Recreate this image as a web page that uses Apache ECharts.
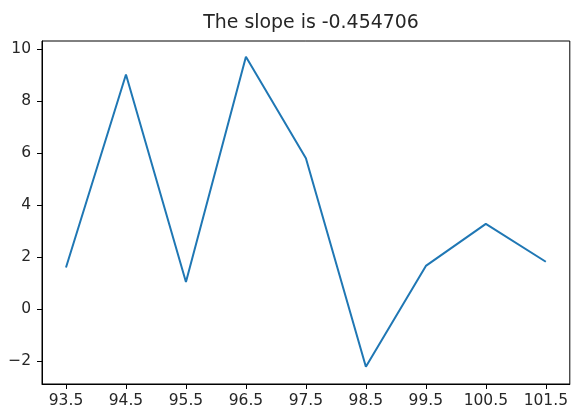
<!DOCTYPE html>
<html>
<head>
<meta charset="utf-8">
<script src="https://cdn.jsdelivr.net/npm/echarts@6/dist/echarts.min.js"></script>
<style>
  html, body { margin: 0; padding: 0; background: #fff; }
  #chart { width: 571px; height: 412px; }
</style>
</head>
<body>
<div id="chart"></div>
<script>
// Temperatures along x and the measured response along y
const xValues = [93.5, 94.5, 95.5, 96.5, 97.5, 98.5, 99.5, 100.5, 101.5];
const yValues = [1.6, 9.02, 1.04, 9.7, 5.8, -2.22, 1.66, 3.28, 1.82];
const xTicks = [93.5, 94.5, 95.5, 96.5, 97.5, 98.5, 99.5, 100.5, 101.5];
const yTicks = [-2, 0, 2, 4, 6, 8, 10];
const titleText = 'The slope is -0.454706';

const FONT = 'DejaVu Sans';
const chart = echarts.init(document.getElementById('chart'), null, { renderer: 'canvas' });

const axisCommon = {
  axisLine: { show: true, onZero: false, lineStyle: { color: '#000', width: 1 } },
  axisTick: { show: true, inside: false, length: 5, lineStyle: { color: '#000', width: 1 } },
  axisLabel: { color: '#262626', fontFamily: FONT, fontSize: 15.5 },
  splitLine: { show: false }
};

chart.setOption({
  animation: false,
  backgroundColor: '#fff',
  title: {
    text: titleText,
    left: 306, top: 9, textAlign: 'center',
    textStyle: { fontFamily: FONT, fontSize: 18.9, fontWeight: 'normal', color: '#262626' }
  },
  grid: {
    left: 42, right: 1, top: 41, bottom: 28,
    show: true, borderColor: '#000', borderWidth: 1, backgroundColor: 'transparent'
  },
  xAxis: {
    type: 'value',
    min: 93.1, max: 101.9,
    ...axisCommon,
    axisTick: { ...axisCommon.axisTick, customValues: xTicks },
    axisLabel: {
      ...axisCommon.axisLabel, margin: 9,
      customValues: xTicks,
      formatter: v => v.toFixed(1)
    }
  },
  yAxis: {
    type: 'value',
    min: -2.88, max: 10.31,
    ...axisCommon,
    axisTick: { ...axisCommon.axisTick, customValues: yTicks },
    axisLabel: {
      ...axisCommon.axisLabel, margin: 11,
      customValues: yTicks,
      formatter: v => String(v).replace('-', '\u2212')
    }
  },
  series: [{
    type: 'line',
    data: xValues.map((x, i) => [x, yValues[i]]),
    showSymbol: false,
    lineStyle: { color: '#1f77b4', width: 2 },
    itemStyle: { color: '#1f77b4' }
  }]
});
</script>
</body>
</html>
